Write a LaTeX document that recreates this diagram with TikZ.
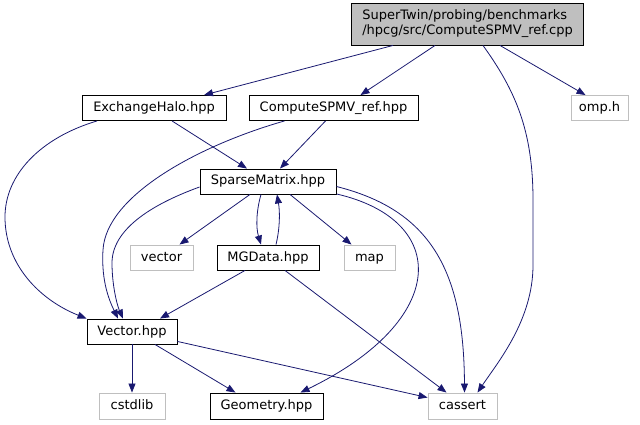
\documentclass[tikz,border=0pt]{standalone}
\usepackage{fontspec}
\setmainfont{DejaVu Sans}
\usetikzlibrary{arrows.meta,calc}
\definecolor{edgeblue}{HTML}{191970}
\definecolor{rootfill}{HTML}{BFBFBF}
\definecolor{sysgray}{HTML}{BFBFBF}
\begin{document}
\begin{tikzpicture}[x=1pt,y=1pt,
  font=\fontsize{13}{15}\selectfont,
  box/.style={draw=black,line width=0.9pt,fill=white,inner sep=0pt,minimum height=25pt,text height=9.5pt,text depth=2.5pt},
  sysbox/.style={draw=sysgray,line width=0.9pt,fill=white,inner sep=0pt,minimum height=25pt,text height=9.5pt,text depth=2.5pt},
  rootbox/.style={draw=black,line width=0.9pt,fill=rootfill,inner sep=0pt,minimum width=232pt,minimum height=42pt,align=left},
  edge/.style={draw=edgeblue,line width=0.8pt,-{Triangle[length=9pt,width=7pt]}}]
\useasboundingbox (0,0) rectangle (640,-425);
\node[rootbox] (root) at (467.5,-24) {SuperTwin/probing/benchmarks\\/hpcg/src/ComputeSPMV\_ref.cpp};
\node[box,minimum width=144pt] (exh) at (154,-108) {ExchangeHalo.hpp};
\node[box,minimum width=169pt] (cspmv) at (333.5,-108) {ComputeSPMV\_ref.hpp};
\node[sysbox,minimum width=57pt] (omp) at (599.5,-108) {omp.h};
\node[box,minimum width=136pt] (sm) at (268,-181.5) {SparseMatrix.hpp};
\node[sysbox,minimum width=63pt] (vector) at (161.5,-257.5) {vector};
\node[box,minimum width=102pt] (mg) at (268,-257.5) {MGData.hpp};
\node[sysbox,minimum width=51pt] (map) at (369.5,-257.5) {map};
\node[box,minimum width=90pt] (vec) at (132,-331.5) {Vector.hpp};
\node[sysbox,minimum width=66pt,minimum height=26pt] (cstdlib) at (132,-406) {cstdlib};
\node[box,minimum width=113pt,minimum height=26pt] (geo) at (266.5,-406) {Geometry.hpp};
\node[sysbox,minimum width=69pt,minimum height=26pt] (cassert) at (462.5,-406) {cassert};

% root edges
\draw[edge] ([xshift=-74.5pt]root.south) -- ([xshift=50pt]exh.north);
\draw[edge] ([xshift=-32.5pt]root.south) -- ([xshift=27pt]cspmv.north);
\draw[edge] ([xshift=32.5pt]root.south) -- ([xshift=-14pt]omp.north);
\draw[edge] ([xshift=15.5pt]root.south) .. controls (515,-90) and (533,-130) .. (533,-200) -- (533,-265) .. controls (533,-320) and (498,-362) .. ([xshift=15pt]cassert.north);
% ExchangeHalo
\draw[edge] ([xshift=18pt]exh.south) -- ([xshift=-21pt]sm.north);
\draw[edge] ([xshift=-57pt]exh.south) .. controls (40,-138) and (5,-175) .. (5,-217) .. controls (5,-265) and (40,-300) .. (vec.north west);
% ComputeSPMV_ref
\draw[edge] ([xshift=-8pt]cspmv.south) -- ([xshift=12pt]sm.north);
\draw[edge] ([xshift=-49pt]cspmv.south) .. controls (200,-145) and (106,-195) .. (103,-250) .. controls (101,-282) and (110,-302) .. ([xshift=-14pt]vec.north);
% SparseMatrix
\draw[edge] ([yshift=-5.5pt]sm.west) .. controls (150,-205) and (112,-230) .. (112,-263) .. controls (112,-285) and (117,-305) .. ([xshift=-9pt]vec.north);
\draw[edge] ([xshift=-18pt]sm.south) -- ([xshift=18pt]vector.north);
\draw[edge] ([xshift=-7pt]sm.south) .. controls (256,-212) and (256,-228) .. ([xshift=-7pt]mg.north);
\draw[edge] ([xshift=8pt]mg.north) .. controls (280,-228) and (280,-212) .. ([xshift=9pt]sm.south);
\draw[edge] ([xshift=22pt]sm.south) -- ([xshift=-18pt]map.north);
\draw[edge] ([yshift=0.5pt]sm.south east) .. controls (450,-220) and (450,-320) .. ([xshift=34pt]geo.north);
\draw[edge] ([yshift=-5pt]sm.east) .. controls (430,-210) and (464,-270) .. ([xshift=2pt]cassert.north);
% MGData
\draw[edge] ([xshift=-23pt]mg.south) -- ([xshift=28pt]vec.north);
\draw[edge] ([xshift=17pt]mg.south) -- ([xshift=-16pt]cassert.north);
% Vector
\draw[edge] (vec.south) -- (cstdlib.north);
\draw[edge] ([xshift=23pt]vec.south) -- ([xshift=-31pt]geo.north);
\draw[edge] ([yshift=3pt]vec.south east) -- ([yshift=-5pt]cassert.north west);
\end{tikzpicture}
\end{document}
